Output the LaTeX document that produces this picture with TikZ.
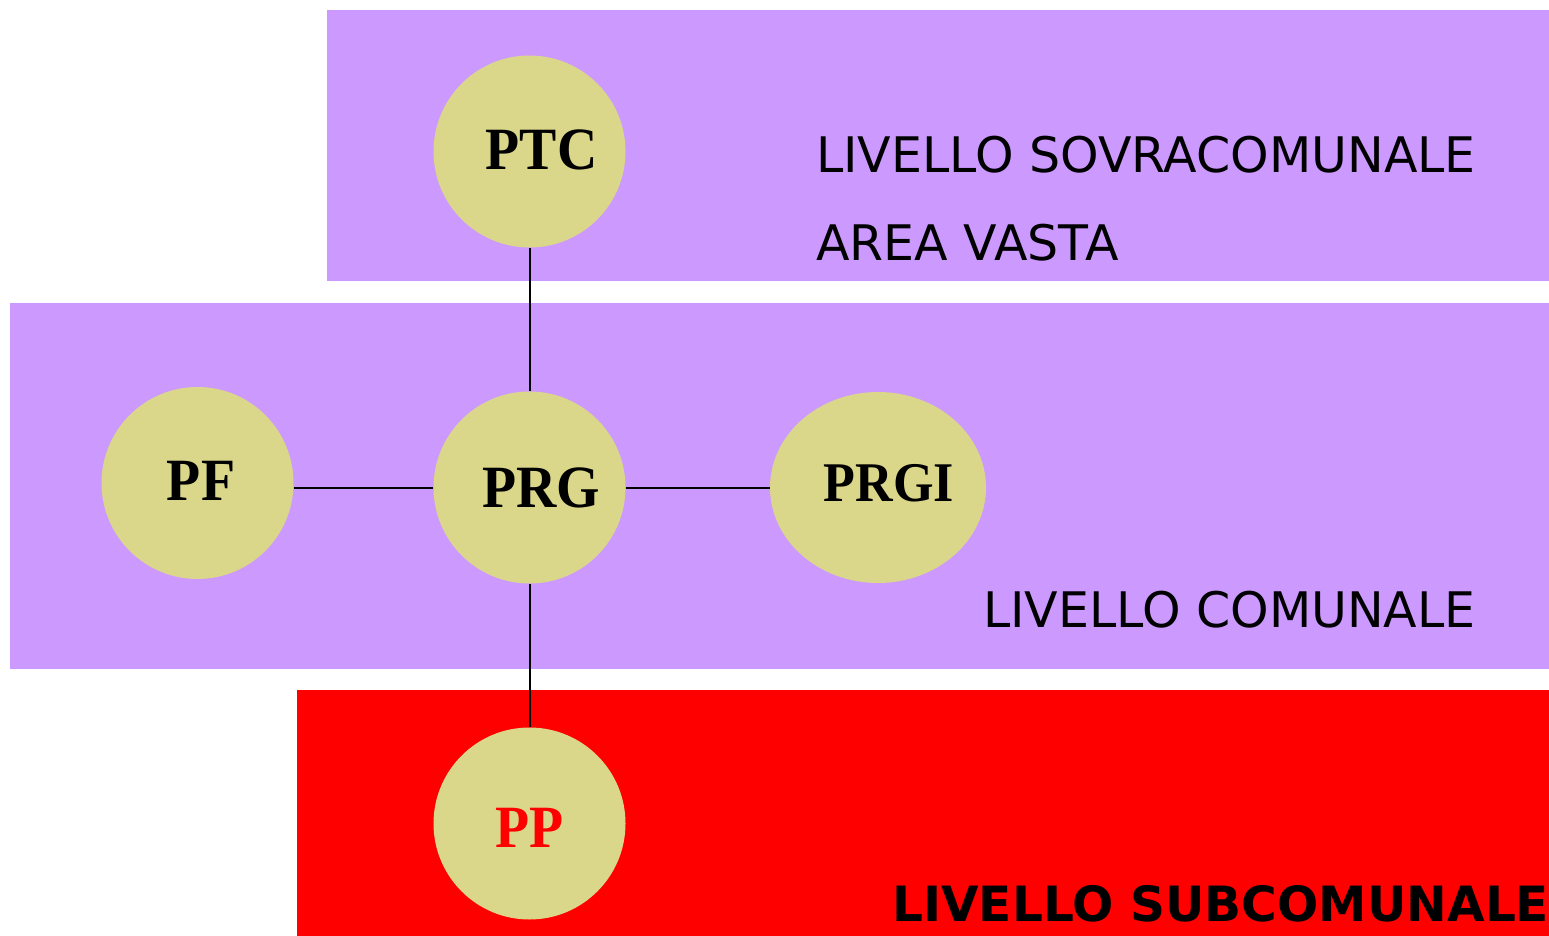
\documentclass[tikz,border=0pt]{standalone}
\usepackage{fontspec}
\usepackage{graphicx}
\setmainfont{Liberation Serif}
\newfontfamily\bandfont{DejaVu Sans}
\usetikzlibrary{shapes,positioning}

\definecolor{lilla}{RGB}{204,153,255}
\definecolor{paglia}{RGB}{218,214,138}
\definecolor{rosso}{RGB}{255,0,0}

\newcommand{\siglatxt}[1]{\scalebox{0.93}[1]{#1}}

\tikzset{
  piano/.style={draw=none,fill=paglia,circle,minimum size=192pt,inner sep=0pt},
  sigla/.style={inner sep=0pt,font=\fontsize{60}{64}\selectfont\bfseries},
  livello/.style={inner sep=0pt,anchor=base west,font=\bandfont\fontsize{49}{58}\selectfont},
  legame/.style={line width=2pt}
}

\begin{document}
\begin{tikzpicture}[x=1pt,y=-1pt]
\useasboundingbox (0,0) rectangle (1549,936);

% fasce
\fill[lilla] (327,10) rectangle (1549,281);
\fill[lilla] (10,303) rectangle (1549,669);
\fill[rosso] (297,690) rectangle (1549,936);

% piani
\node[piano] (ptc) at (529.5,151.5) {};
\node[piano] (prg) at (529.5,487.5) {};
\node[piano] (pf) at (197.5,483) {};
\node[piano,ellipse,minimum width=216pt,minimum height=191pt] (prgi) at (878,487.5) {};
\node[piano] (pp) at (529.5,823.5) {};

\node[sigla] (ptctxt) at ([xshift=12pt,yshift=1.5pt]ptc.center) {\siglatxt{PTC}};
\node[sigla] (prgtxt) at ([xshift=12pt]prg.center) {\siglatxt{PRG}};
\node[sigla] (pftxt) at ([xshift=3.5pt,yshift=2pt]pf.center) {\siglatxt{PF}};
\node[sigla,font=\fontsize{56}{60}\selectfont\bfseries] (prgitxt) at ([xshift=11pt,yshift=4pt]prgi.center) {\siglatxt{PRGI}};
\node[sigla,text=rosso] (pptxt) at ([yshift=-4pt]pp.center) {\siglatxt{PP}};

% collegamenti
\draw[legame] (ptc) -- (prg);
\draw[legame] (prg.west) -- (prg.west -| pf.east);
\draw[legame] (prg) -- (prgi);
\draw[legame] (prg) -- (pp);

% livelli
\node[livello] (sovra) at (816,173) {LIVELLO SOVRACOMUNALE};
\node[livello] (vasta) at (816,260) {AREA VASTA};
\node[livello] (comun) at (983,627) {LIVELLO COMUNALE};
\node[livello,font=\bandfont\fontsize{48.6}{58}\selectfont\bfseries] (subcom) at (892,921) {LIVELLO SUBCOMUNALE};
\end{tikzpicture}
\end{document}
